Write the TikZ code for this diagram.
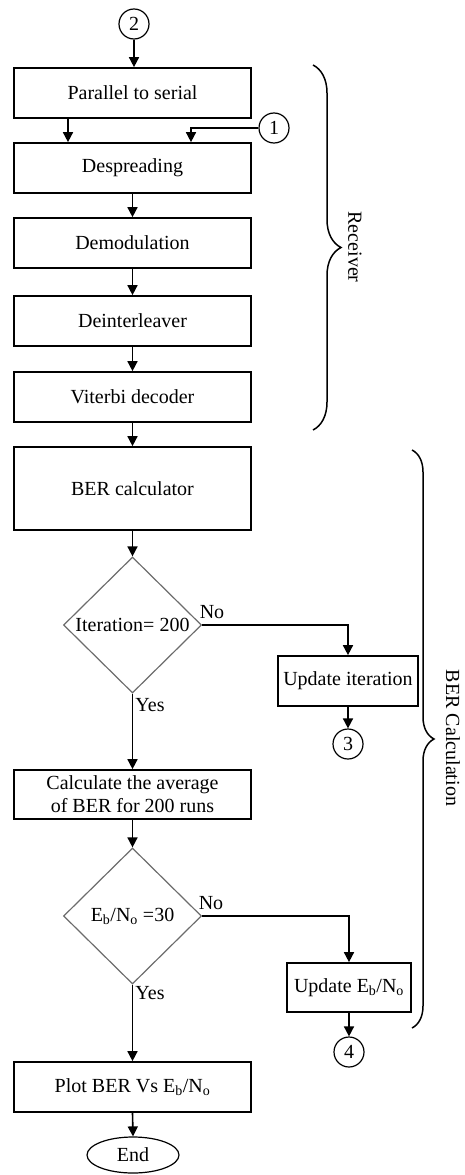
\documentclass[tikz,border=0pt]{standalone}
\usepackage{fontspec}
\setmainfont{Liberation Serif}
\usetikzlibrary{arrows.meta,shapes.geometric,decorations.pathreplacing}

\begin{document}
\begin{tikzpicture}[
  x=1pt, y=-1pt,
  font=\fontsize{20}{23}\selectfont,
  block/.style={draw,rectangle,line width=1.7pt,minimum width=237pt,minimum height=50pt,inner sep=2pt,align=center},
  decision/.style={draw=gray!85!black,diamond,aspect=1,line width=1.2pt,minimum width=138pt,minimum height=136pt,inner sep=0pt},
  connector/.style={draw,circle,line width=1.2pt,minimum size=30pt,inner sep=0pt},
  terminal/.style={draw,ellipse,line width=1.2pt,minimum width=92pt,minimum height=36pt,inner sep=0pt},
  flow/.style={-{Triangle[length=10pt,width=10pt]},line width=1.6pt},
  grp/.style={decorate,decoration={brace,amplitude=#1},line width=1.5pt}
]
  \useasboundingbox (0,0) rectangle (464,1175);

  % receiver chain
  \node[connector] (c2)    at (134,24)    {2};
  \node[block]     (p2s)   at (132.5,93)  {Parallel to serial};
  \node[connector] (c1)    at (274,128)   {1};
  \node[block]     (desp)  at (132.5,168) {Despreading};
  \node[block]     (demod) at (132.5,243) {Demodulation};
  \node[block]     (deint) at (132.5,321) {Deinterleaver};
  \node[block]     (vit)   at (132.5,397) {Viterbi decoder};

  % BER calculation
  \node[block,minimum height=83pt] (berc) at (132.5,488.5) {BER calculator};
  \node[decision] (iter) at (132.5,625) {Iteration= 200};
  \node[block,minimum width=140pt] (upit) at (348,681) {Update iteration};
  \node[connector] (c3) at (348,744) {3};
  \node[block,minimum height=49pt] (avg) at (132.5,794.5) {Calculate the average\\of BER for 200 runs};
  \node[decision] (ebno) at (132.5,916) {E\textsubscript{b}/N\textsubscript{o} =30};
  \node[block,minimum width=124pt,minimum height=49pt] (upeb) at (349,987.5) {Update E\textsubscript{b}/N\textsubscript{o}};
  \node[connector] (c4) at (349,1052) {4};
  \node[block] (plot) at (132.5,1087) {Plot BER Vs E\textsubscript{b}/N\textsubscript{o}};
  \node[terminal] (end) at (133,1155) {End};

  \node (no1)  at (212,612) {No};
  \node (yes1) at (150,705) {Yes};
  \node (no2)  at (211,903) {No};
  \node (yes2) at (150,993) {Yes};

  \draw[flow] (c2) -- (c2 |- p2s.north);
  \draw[flow] ([xshift=-64.5pt]p2s.south) -- ([xshift=-64.5pt]desp.north);
  \draw[flow] (c1) -| ([xshift=58.5pt]desp.north);
  \draw[flow] (desp.south)  -- (demod.north);
  \draw[flow] (demod.south) -- (deint.north);
  \draw[flow] (deint.south) -- (vit.north);
  \draw[flow] (vit.south)   -- (berc.north);
  \draw[flow] (berc.south)  -- (iter.north);
  \draw[flow] (iter.east) -| (upit.north);
  \draw[flow] (upit.south) -- (c3.north);
  \draw[flow] (iter.south) -- (avg.north);
  \draw[flow] (avg.south)  -- (ebno.north);
  \draw[flow] (ebno.east) -| (upeb.north);
  \draw[flow] (upeb.south) -- (c4.north);
  \draw[flow] (ebno.south) -- (plot.north);
  \draw[flow] (plot.south) -- (end.north);

  % braces
  \draw[grp=28pt] (313,65) -- (313,430);
  \node[rotate=-90] (rcv) at (355,247) {Receiver};
  \draw[grp=22pt] (412,450) -- (412,1028);
  \node[rotate=-90] (berlbl) at (453,738) {BER Calculation};
\end{tikzpicture}
\end{document}
